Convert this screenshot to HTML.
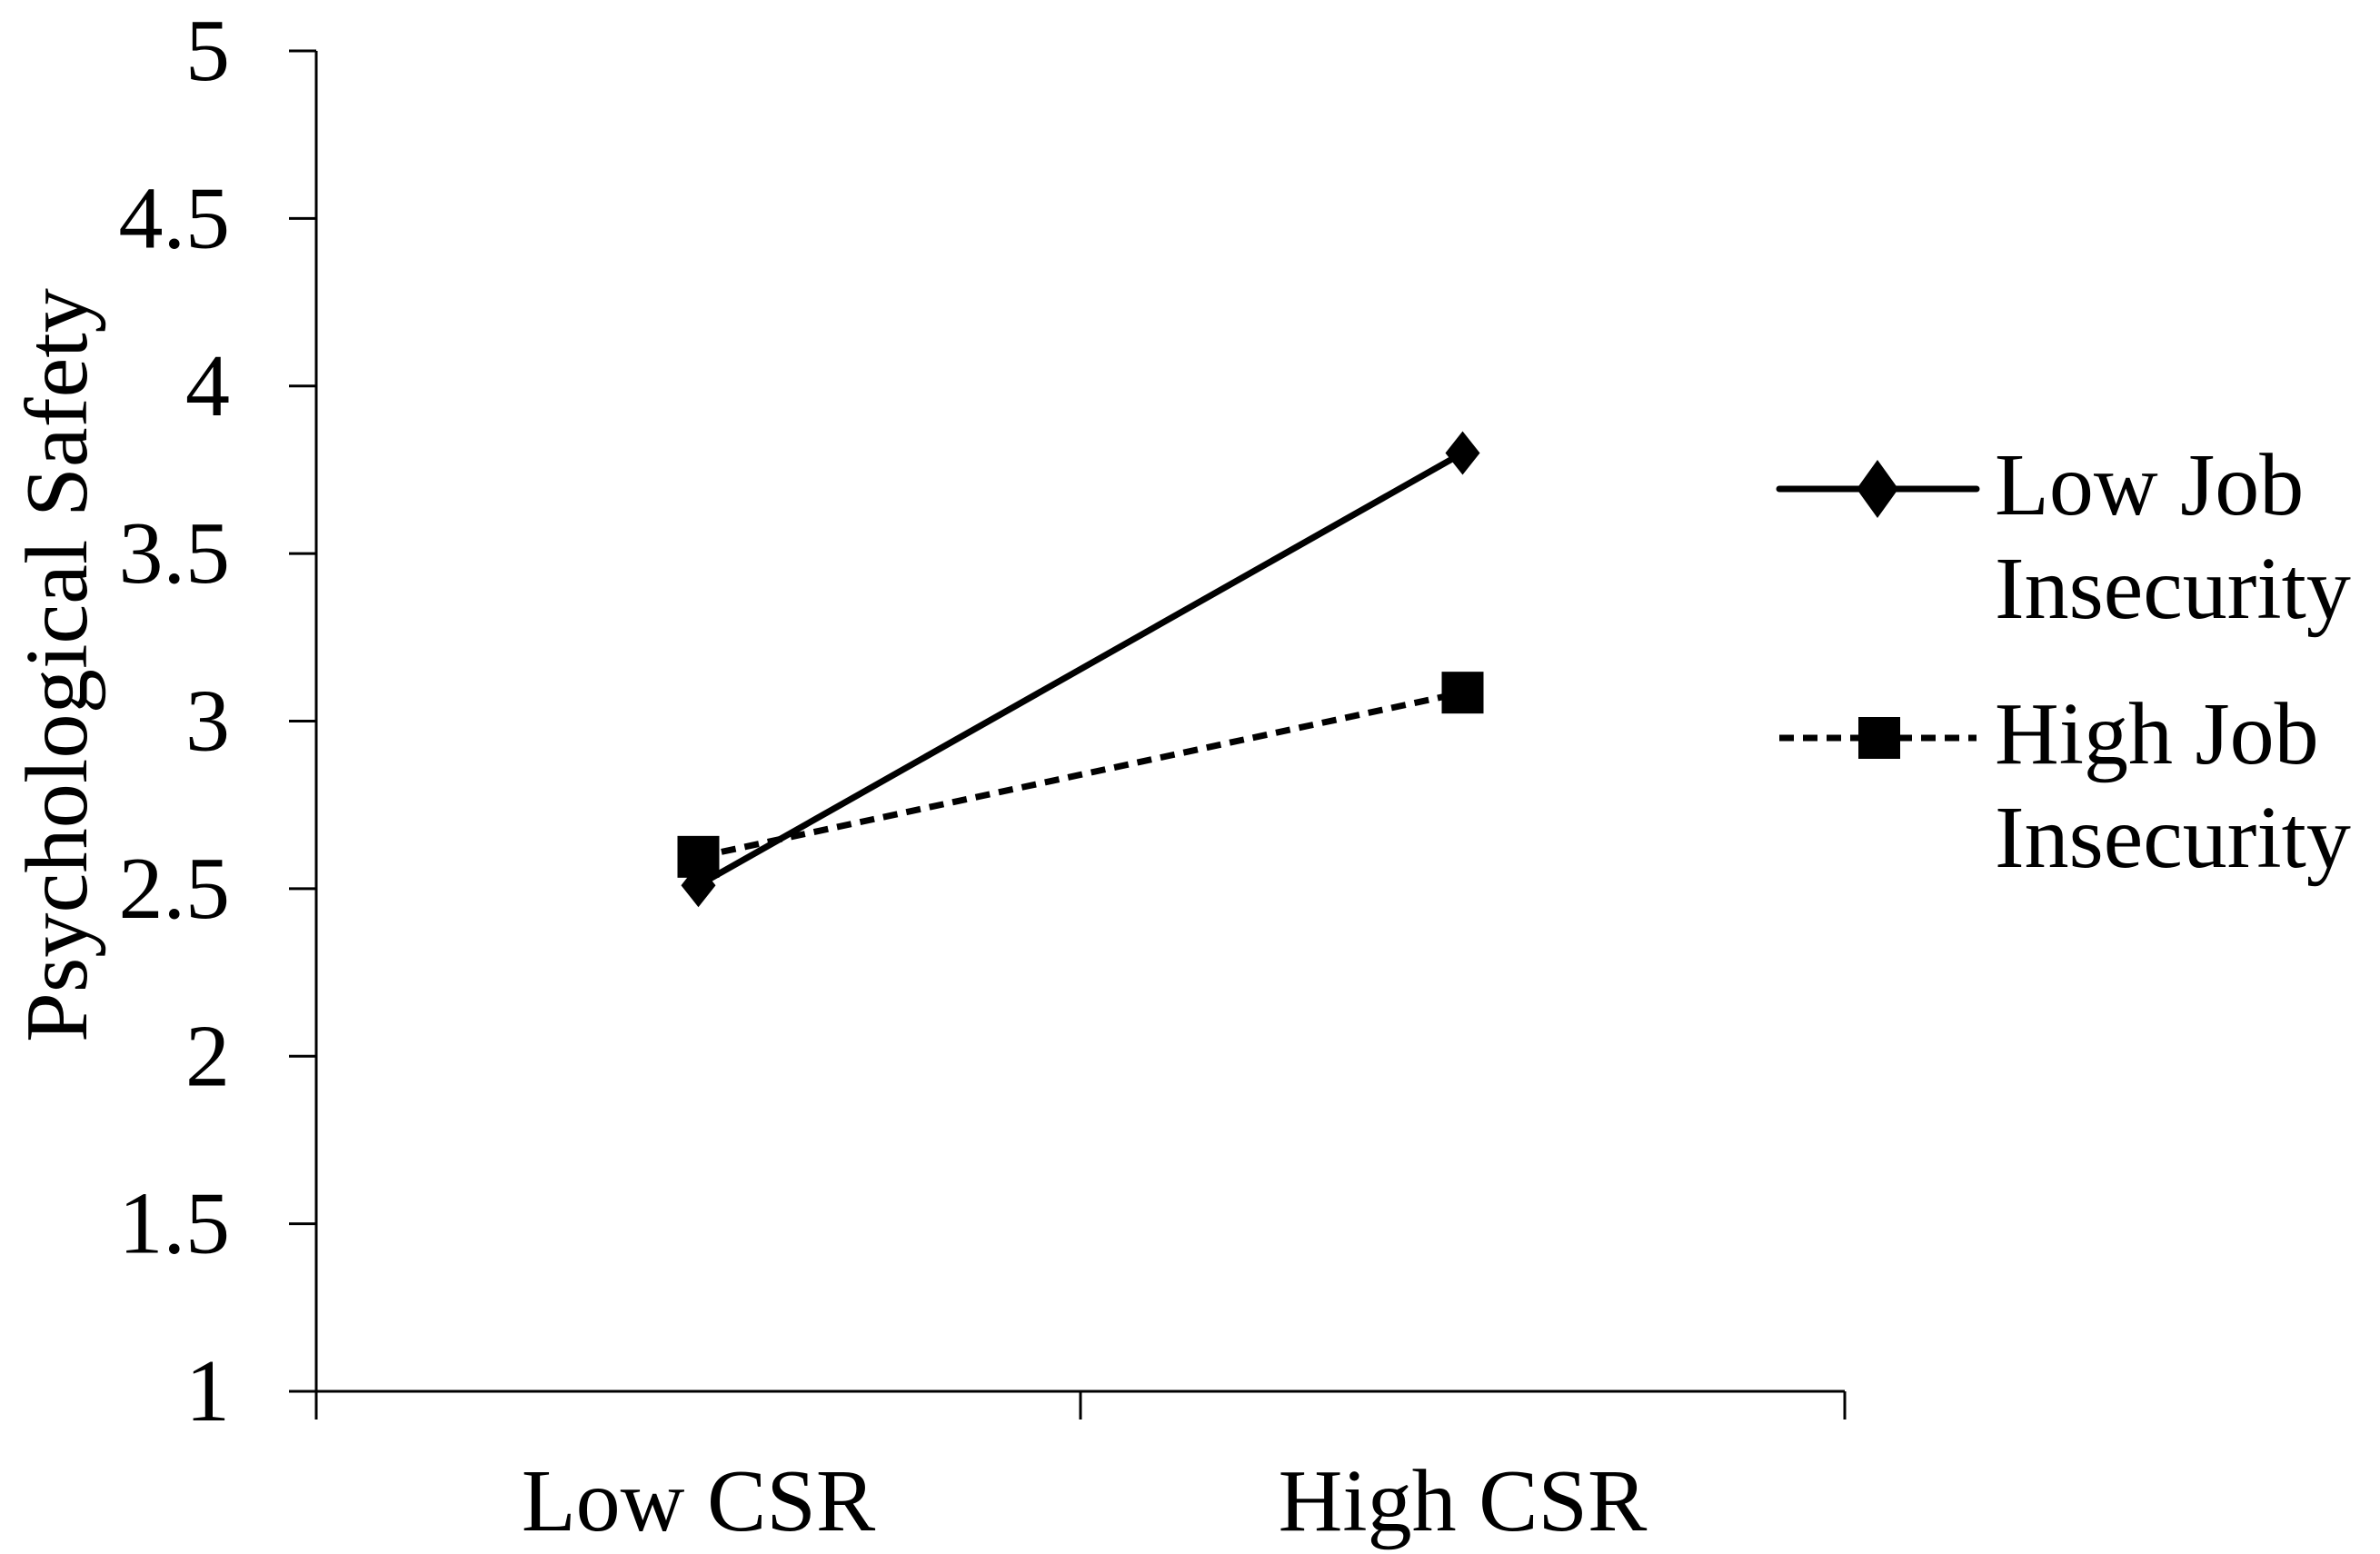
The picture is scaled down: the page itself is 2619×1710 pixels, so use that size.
<!DOCTYPE html>
<html><head><meta charset="utf-8"><style>
html,body{margin:0;padding:0;background:#fff;}
svg{display:block;font-family:"Liberation Serif","Times New Roman",serif;}
</style></head><body>
<svg id="chart" width="2619" height="1710" viewBox="0 0 2619 1710">
<g id="axes"></g>
<g id="series"></g>
<text x="0" y="0" transform="translate(95,732) rotate(-90)" text-anchor="middle" font-size="98" textLength="830" lengthAdjust="spacingAndGlyphs">Psychological Safety</text>
<g>
  <g>
    <line x1="1958" y1="538" x2="2175" y2="538" stroke="#000" stroke-width="7" stroke-linecap="round"/>
    <polygon points="2066,506 2089,538 2066,570 2043,538" fill="#000"/>
    <text x="2195" y="566" font-size="98">Low Job</text>
    <text x="2195" y="680" font-size="98">Insecurity</text>
  </g>
  <g>
    <line x1="1958" y1="812" x2="2175" y2="812" stroke="#000" stroke-width="7" stroke-dasharray="16,10"/>
    <rect x="2045" y="789" width="46" height="46" fill="#000"/>
    <text x="2195" y="840" font-size="98">High Job</text>
    <text x="2195" y="954" font-size="98">Insecurity</text>
  </g>
</g>
</svg>
<script>
const categories = ["Low CSR", "High CSR"];
const lowJobInsecurity = [2.51, 3.80];
const highJobInsecurity = [2.595, 3.085];
const yTicks = [1, 1.5, 2, 2.5, 3, 3.5, 4, 4.5, 5];
const yTickLabels = ["1", "1.5", "2", "2.5", "3", "3.5", "4", "4.5", "5"];

const NS = "http://www.w3.org/2000/svg";
const X0 = 348, X1 = 2030, Y0 = 1531, Y1 = 56, YMIN = 1, YMAX = 5;
function yScale(v){ return Y0 - (v - YMIN) / (YMAX - YMIN) * (Y0 - Y1); }
function xScale(i){ const w = (X1 - X0) / categories.length; return X0 + w * (i + 0.5); }
function mk(tag, attrs, parent){ const e = document.createElementNS(NS, tag); for (const k in attrs) e.setAttribute(k, attrs[k]); parent.appendChild(e); return e; }

const axes = document.getElementById('axes');
let yAxis = mk('line', {x1:X0, y1:Y1, x2:X0, y2:Y0, stroke:'#000', 'stroke-width':3}, axes);


let xAxis = mk('line', {x1:X0-30, y1:Y0, x2:X1, y2:Y0, stroke:'#000', 'stroke-width':3}, axes);


yTicks.forEach((v, i) => {
  const y = yScale(v);
  const t = mk('line', {x1:X0-30, y1:y, x2:X0, y2:y, stroke:'#000', 'stroke-width':3}, axes);
  
  
  const l = mk('text', {x:253, y:y+32, 'text-anchor':'end', 'font-size':98}, axes);
  l.textContent = yTickLabels[i];
  
  
});
for (let i = 0; i <= categories.length; i++) {
  const x = X0 + (X1 - X0) / categories.length * i;
  const t = mk('line', {x1:x, y1:Y0, x2:x, y2:Y0+31, stroke:'#000', 'stroke-width':3}, axes);
  
  
}
categories.forEach((c, i) => {
  const l = mk('text', {x:xScale(i), y:1684, 'text-anchor':'middle', 'font-size':98}, axes);
  l.textContent = c;
  
  
});

const series = document.getElementById('series');
const ptsLow = lowJobInsecurity.map((v, i) => xScale(i) + ',' + yScale(v)).join(' ');
const ptsHigh = highJobInsecurity.map((v, i) => xScale(i) + ',' + yScale(v)).join(' ');
const lineHigh = mk('polyline', {points:ptsHigh, fill:'none', stroke:'#000', 'stroke-width':7, 'stroke-dasharray':'16,10'}, series);


const lineLow = mk('polyline', {points:ptsLow, fill:'none', stroke:'#000', 'stroke-width':7}, series);


highJobInsecurity.forEach((v, i) => {
  const x = xScale(i), y = yScale(v);
  const r = mk('rect', {x:x-23, y:y-23, width:46, height:46, fill:'#000'}, series);
  
  
});
lowJobInsecurity.forEach((v, i) => {
  const x = xScale(i), y = yScale(v);
  const p = mk('polygon', {points:`${x},${y-24} ${x+19},${y} ${x},${y+24} ${x-19},${y}`, fill:'#000'}, series);
  
  
});
</script>
</body></html>
